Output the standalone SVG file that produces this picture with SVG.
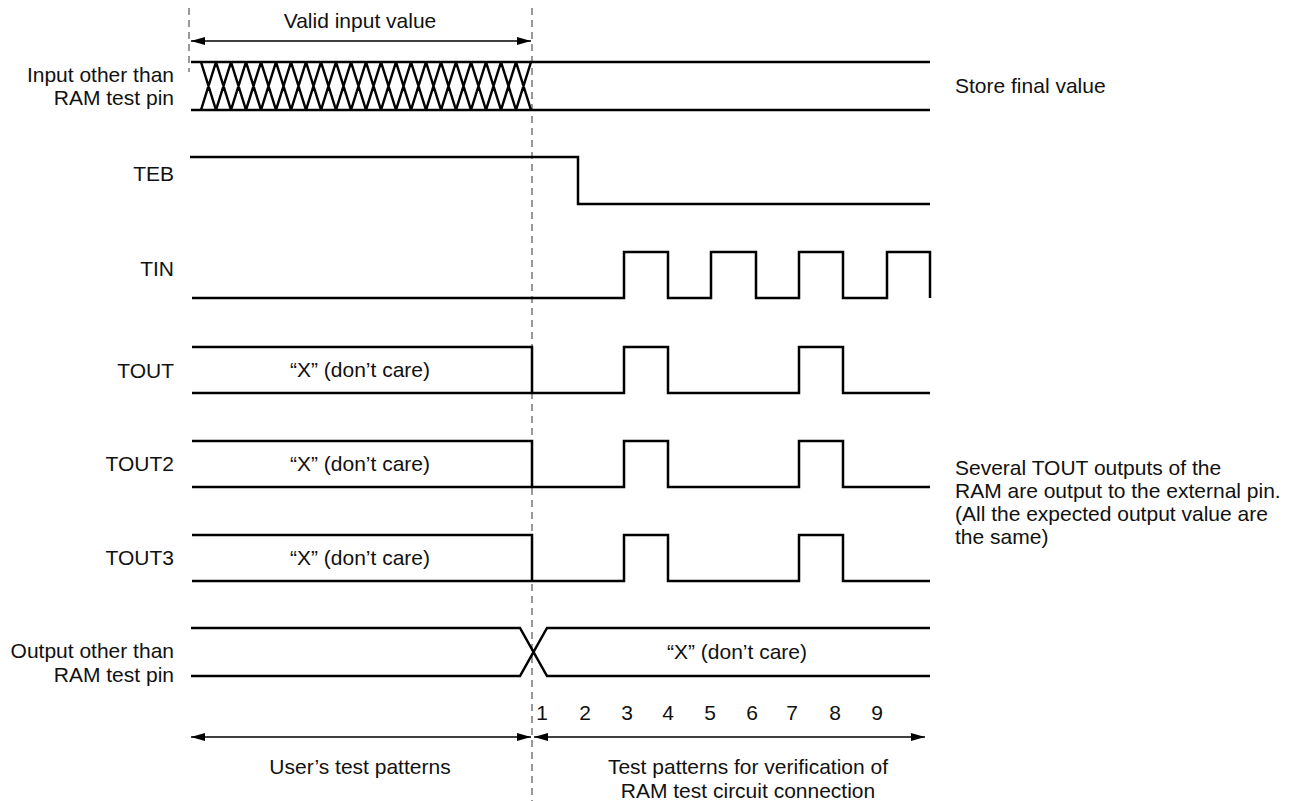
<svg xmlns="http://www.w3.org/2000/svg" width="1294" height="801" viewBox="0 0 1294 801">
<style>
text{font-family:"Liberation Sans",Arial,sans-serif;font-size:21px;fill:#111}
.lbl{text-anchor:end}
.mid{text-anchor:middle}
.w{fill:none;stroke:#000;stroke-width:2.5;stroke-linejoin:miter;stroke-linecap:butt}
.h{fill:none;stroke:#000;stroke-width:2.5}
.dash{fill:none;stroke:#808080;stroke-width:1.6;stroke-dasharray:7,5}
.arr{fill:none;stroke:#000;stroke-width:1.5}
</style>
<defs>
<marker id="ah" markerWidth="15" markerHeight="10" refX="14" refY="5" orient="auto-start-reverse" markerUnits="userSpaceOnUse">
<path d="M0,1 L14,5 L0,9 Z" fill="#000"/>
</marker>
</defs>
<rect width="1294" height="801" fill="#fff"/>
<g id="guides">
<line class="dash" x1="189" y1="8" x2="189" y2="72"/>
<line class="dash" x1="532" y1="8" x2="532" y2="801"/>
</g>
<g id="connectors">
<line class="arr" x1="191" y1="41" x2="531" y2="41" marker-start="url(#ah)" marker-end="url(#ah)"/>
<line class="arr" x1="191" y1="737" x2="531" y2="737" marker-start="url(#ah)" marker-end="url(#ah)"/>
<line class="arr" x1="534" y1="737" x2="925" y2="737" marker-start="url(#ah)" marker-end="url(#ah)"/>
</g>
<g id="valid-label"><text class="mid" x="360" y="28">Valid input value</text></g>
<g id="sig-input">
<text class="lbl" x="174" y="82">Input other than</text>
<text class="lbl" x="174" y="105">RAM test pin</text>
<path class="w" d="M191,62 H930 M191,110 H930"/>
<path class="h" d="M201,62 L216,110 M201,110 L216,62 M216,62 L231,110 M216,110 L231,62 M231,62 L246,110 M231,110 L246,62 M246,62 L261,110 M246,110 L261,62 M261,62 L276,110 M261,110 L276,62 M276,62 L291,110 M276,110 L291,62 M291,62 L306,110 M291,110 L306,62 M306,62 L321,110 M306,110 L321,62 M321,62 L336,110 M321,110 L336,62 M336,62 L351,110 M336,110 L351,62 M351,62 L366,110 M351,110 L366,62 M366,62 L381,110 M366,110 L381,62 M381,62 L396,110 M381,110 L396,62 M396,62 L411,110 M396,110 L411,62 M411,62 L426,110 M411,110 L426,62 M426,62 L441,110 M426,110 L441,62 M441,62 L456,110 M441,110 L456,62 M456,62 L471,110 M456,110 L471,62 M471,62 L486,110 M471,110 L486,62 M486,62 L501,110 M486,110 L501,62 M501,62 L516,110 M501,110 L516,62 M516,62 L531,110 M516,110 L531,62"/>
<text x="955" y="93">Store final value</text>
</g>
<g id="sig-teb">
<text class="lbl" x="174" y="181">TEB</text>
<path class="w" d="M190,157 H578 V204 H930"/>
</g>
<g id="sig-tin">
<text class="lbl" x="174" y="276">TIN</text>
<path class="w" d="M192,298 H624 V252 H668 V298 H711 V252 H756 V298 H799 V252 H843 V298 H887 V252 H930 V298"/>
</g>
<g id="sig-tout">
<text class="lbl" x="174" y="378">TOUT</text>
<path class="w" d="M192,347 H532 V393 M192,393 H624 V347 H668 V393 H799 V347 H843 V393 H930"/>
<text class="mid" x="360" y="377">“X” (don’t care)</text>
</g>
<g id="sig-tout2">
<text class="lbl" x="174" y="471">TOUT2</text>
<path class="w" d="M192,441 H532 V487 M192,487 H624 V441 H668 V487 H799 V441 H843 V487 H930"/>
<text class="mid" x="360" y="471">“X” (don’t care)</text>
</g>
<g id="sig-tout3">
<text class="lbl" x="174" y="565">TOUT3</text>
<path class="w" d="M192,535 H532 V581 M192,581 H624 V535 H668 V581 H799 V535 H843 V581 H930"/>
<text class="mid" x="360" y="565">“X” (don’t care)</text>
</g>
<g id="note">
<text x="955" y="475">Several TOUT outputs of the</text>
<text x="955" y="498">RAM are output to the external pin.</text>
<text x="955" y="521">(All the expected output value are</text>
<text x="955" y="544">the same)</text>
</g>
<g id="sig-output">
<text class="lbl" x="174" y="658">Output other than</text>
<text class="lbl" x="174" y="682">RAM test pin</text>
<path class="w" d="M191,628 H520 L547,676 H930 M191,676 H520 L547,628 H930"/>
<text class="mid" x="737" y="659">“X” (don’t care)</text>
</g>
<g id="cycles">
<text class="mid" x="542" y="720">1</text>
<text class="mid" x="585" y="720">2</text>
<text class="mid" x="627" y="720">3</text>
<text class="mid" x="668" y="720">4</text>
<text class="mid" x="710" y="720">5</text>
<text class="mid" x="752" y="720">6</text>
<text class="mid" x="792" y="720">7</text>
<text class="mid" x="835" y="720">8</text>
<text class="mid" x="877" y="720">9</text>
</g>
<g id="phase-labels">
<text class="mid" x="360" y="774">User’s test patterns</text>
<text class="mid" x="748" y="774">Test patterns for verification of</text>
<text class="mid" x="748" y="798">RAM test circuit connection</text>
</g>
</svg>
